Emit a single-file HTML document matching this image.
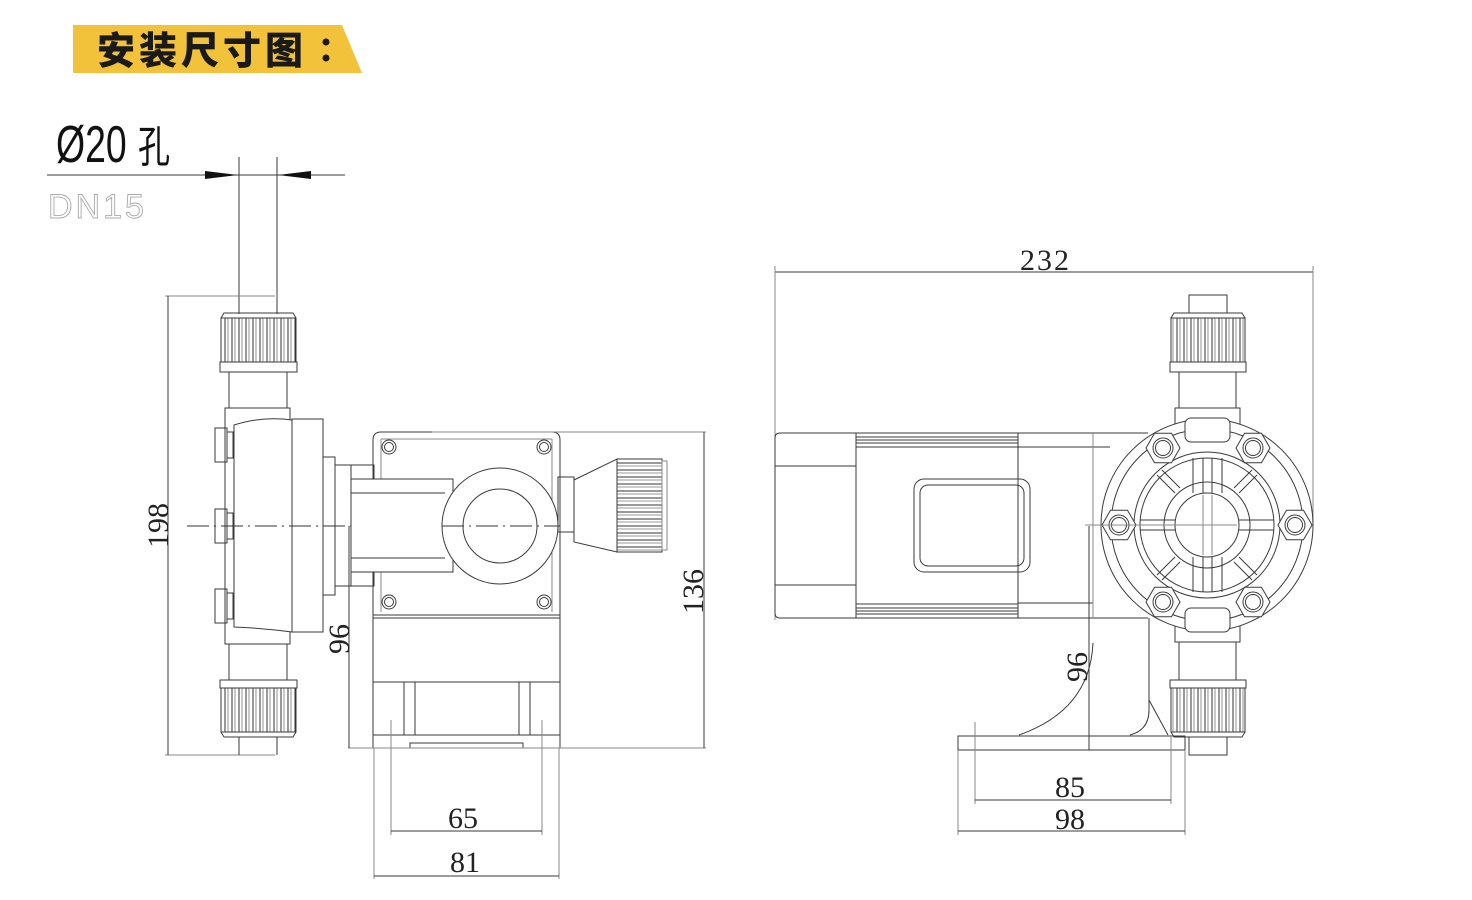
<!DOCTYPE html>
<html><head><meta charset="utf-8"><style>
html,body{margin:0;padding:0;background:#fff;}
svg{display:block;}
.s{fill:none;stroke:#3a3a3a;stroke-width:1;}
.g{fill:none;stroke:#888;stroke-width:1;}
.w{fill:#fff;stroke:#3a3a3a;stroke-width:1;}
.kv{fill:url(#kv);stroke:#3a3a3a;stroke-width:1;}
.kh{fill:url(#kh);stroke:#3a3a3a;stroke-width:1;}
.d{font-family:"Liberation Serif",serif;font-size:30px;fill:#222;}
</style></head><body>
<svg width="1472" height="900" viewBox="0 0 1472 900" xmlns="http://www.w3.org/2000/svg">
<defs>
<pattern id="kv" x="0" y="0" width="7" height="60" patternUnits="userSpaceOnUse"><rect width="7" height="60" fill="#fff"/><line x1="1" y1="0" x2="1" y2="60" stroke="#333" stroke-width="1"/><line x1="4" y1="0" x2="4" y2="60" stroke="#777" stroke-width="0.8"/></pattern>
<pattern id="kh" x="0" y="0" width="60" height="7" patternUnits="userSpaceOnUse"><rect width="60" height="7" fill="#fff"/><line x1="0" y1="1" x2="60" y2="1" stroke="#333" stroke-width="1"/><line x1="0" y1="4" x2="60" y2="4" stroke="#777" stroke-width="0.8"/></pattern>
</defs>

<!-- Title -->
<polygon points="73,25 342,25 362,73 73,73" fill="#f2c23a"/>
<text x="97" y="64" font-family="'Noto Sans CJK SC',sans-serif" font-weight="900" font-size="38" fill="#1a1a1a" letter-spacing="4">安装尺寸图</text>
<circle cx="326" cy="42" r="3.5" fill="#1a1a1a"/>
<circle cx="326" cy="58" r="3.5" fill="#1a1a1a"/>

<!-- Ø20 孔 -->
<text x="56" y="162" font-family="'Liberation Sans','Noto Sans CJK SC',sans-serif" font-size="52" fill="#111" transform="translate(56,162) scale(0.72,1) translate(-56,-162)">Ø20</text>
<text x="138" y="162" font-family="'Noto Sans CJK SC',sans-serif" font-size="40" fill="#111" transform="translate(138,162) scale(0.8,1.1) translate(-138,-162)">孔</text>
<line x1="47" y1="175" x2="345" y2="175" class="s"/>
<polygon points="205,171 238,175 205,179" fill="#111"/>
<polygon points="311,171 278,175 311,179" fill="#111"/>
<text x="48" y="218" font-family="'Liberation Sans',sans-serif" font-size="34" fill="#fff" stroke="#aaa" stroke-width="0.9" letter-spacing="3">DN15</text>

<!-- ===== LEFT VIEW ===== -->
<line x1="239" y1="157" x2="239" y2="314" class="s"/>
<line x1="277" y1="157" x2="277" y2="314" class="s"/>
<line x1="165" y1="296" x2="275" y2="296" class="g"/>
<line x1="165" y1="755" x2="275" y2="755" class="g"/>
<line x1="168" y1="296" x2="168" y2="755" class="s"/>
<text class="d" transform="translate(168,548) rotate(-90)">198</text>
<rect x="221" y="318" width="75" height="44" class="kv"/>
<path d="M221,318 L224,313 L293,313 L296,318" class="s"/>
<rect x="220" y="362" width="77" height="10" class="s"/>
<rect x="229" y="372" width="58" height="36" class="s"/>
<rect x="225" y="408" width="65" height="236" class="s"/>
<path d="M234,425 Q262,416 292,420 L292,632 Q262,628 234,627 Z" class="w"/>
<rect x="292" y="419" width="31" height="213" class="s"/>
<rect x="323" y="457" width="12" height="138" class="s"/>
<rect x="335" y="465" width="16" height="121" class="s"/>
<rect x="215" y="428" width="12" height="34" class="s"/><rect x="227" y="432" width="6" height="26" class="s"/>
<rect x="215" y="509" width="12" height="34" class="s"/><rect x="227" y="513" width="6" height="26" class="s"/>
<rect x="215" y="589" width="12" height="34" class="s"/><rect x="227" y="593" width="6" height="26" class="s"/>
<rect x="229" y="644" width="58" height="36" class="s"/>
<rect x="220" y="680" width="77" height="8" class="s"/>
<rect x="221" y="688" width="75" height="44" class="kv"/>
<path d="M221,732 L224,737 L293,737 L296,732" class="s"/>
<line x1="239" y1="737" x2="239" y2="755" class="s"/>
<line x1="277" y1="737" x2="277" y2="755" class="s"/>
<line x1="187" y1="526" x2="560" y2="526" stroke="#333" stroke-width="1" stroke-dasharray="22,5,2,5"/>
<path d="M373,618 L373,440 Q373,432 381,432 L552,432 Q560,432 560,440 L560,618 Z" class="s"/>
<line x1="381" y1="439" x2="381" y2="612" class="g"/>
<line x1="552" y1="439" x2="552" y2="612" class="g"/>
<line x1="381" y1="439" x2="552" y2="439" class="g"/>
<line x1="373" y1="615" x2="560" y2="615" class="s"/>
<circle cx="389" cy="447" r="7" class="s"/><circle cx="389" cy="447" r="4.5" class="s"/>
<circle cx="544" cy="447" r="7" class="s"/><circle cx="544" cy="447" r="4.5" class="s"/>
<circle cx="389" cy="602" r="7" class="s"/><circle cx="389" cy="602" r="4.5" class="s"/>
<circle cx="544" cy="602" r="7" class="s"/><circle cx="544" cy="602" r="4.5" class="s"/>
<line x1="432" y1="432" x2="706" y2="432" class="g"/>
<rect x="351" y="479" width="102" height="93" class="w"/>
<line x1="351" y1="493" x2="445" y2="493" class="s"/>
<line x1="351" y1="558" x2="445" y2="558" class="s"/>
<rect x="351" y="465" width="23" height="14" class="s"/>
<rect x="351" y="572" width="23" height="14" class="s"/>
<circle cx="500" cy="526" r="58" class="w"/>
<circle cx="500" cy="526" r="37" class="s"/>
<line x1="442" y1="526" x2="560" y2="526" stroke="#333" stroke-width="1" stroke-dasharray="22,5,2,5"/>
<rect x="558" y="477" width="16" height="55" class="s"/>
<polygon points="574,480 617,459 617,552 574,542" class="w"/>
<rect x="617" y="459" width="45" height="93" class="kh"/>
<rect x="662" y="461" width="5" height="89" class="g"/>
<rect x="373" y="618" width="187" height="64" class="s"/>
<rect x="373" y="682" width="187" height="53" class="s"/>
<line x1="404" y1="682" x2="404" y2="735" class="s"/><line x1="415" y1="682" x2="415" y2="735" class="s"/>
<line x1="519" y1="682" x2="519" y2="735" class="s"/><line x1="530" y1="682" x2="530" y2="735" class="s"/>
<path d="M373,735 L373,748 M560,735 L560,748 M410,748 L410,743 L523,743 L523,748" class="s"/>
<line x1="348" y1="748" x2="706" y2="748" class="g"/>
<line x1="704" y1="432" x2="704" y2="748" class="s"/>
<text class="d" transform="translate(703,614) rotate(-90)">136</text>
<line x1="349" y1="526" x2="349" y2="748" class="s"/>
<text class="d" transform="translate(349,654) rotate(-90)">96</text>
<line x1="391" y1="720" x2="391" y2="835" class="g"/>
<line x1="542" y1="720" x2="542" y2="835" class="g"/>
<line x1="391" y1="831" x2="542" y2="831" class="s"/>
<text class="d" x="448" y="828">65</text>
<line x1="374" y1="748" x2="374" y2="879" class="g"/>
<line x1="559" y1="748" x2="559" y2="879" class="g"/>
<line x1="374" y1="876" x2="559" y2="876" class="s"/>
<text class="d" x="450" y="872">81</text>

<!-- ===== RIGHT VIEW ===== -->
<line x1="775" y1="272" x2="1313" y2="272" class="s"/>
<text class="d" x="1020" y="270" letter-spacing="2">232</text>
<line x1="775" y1="266" x2="775" y2="620" class="g"/>
<line x1="1313" y1="266" x2="1313" y2="522" class="g"/>
<path d="M856,433 L780,433 Q775,433 775,438 L775,613 Q775,618 780,618 L856,618 Z" class="s"/>
<line x1="775" y1="466" x2="856" y2="466" class="s"/>
<line x1="775" y1="585" x2="856" y2="585" class="s"/>
<rect x="856" y="433" width="162" height="185" class="s"/>
<path d="M856,437 H1018 M856,440 H1018 M856,443 H1018 M856,447 H1018 M856,604 H1018 M856,608 H1018 M856,611 H1018 M856,614 H1018" class="s" stroke-width="0.8"/>
<path d="M1018,433 H1148 M1018,447 H1110 M1018,603 H1093 M1018,618 H1148" class="s"/>
<line x1="1093" y1="433" x2="1093" y2="618" class="g"/>
<rect x="914" y="479" width="116" height="93" rx="10" class="s"/>
<rect x="920" y="485" width="104" height="81" rx="8" class="s"/>
<rect x="1189" y="295" width="38" height="18" class="s"/>
<rect x="1171" y="318" width="74" height="44" class="kv"/>
<path d="M1171,318 L1174,313 L1242,313 L1245,318" class="s"/>
<rect x="1170" y="362" width="76" height="10" class="s"/>
<rect x="1179" y="372" width="57" height="36" class="s"/>
<rect x="1175" y="408" width="65" height="30" class="s"/>
<rect x="1175" y="612" width="65" height="30" class="s"/>
<rect x="1179" y="642" width="57" height="38" class="s"/>
<rect x="1170" y="680" width="76" height="8" class="s"/>
<rect x="1171" y="688" width="74" height="44" class="kv"/>
<path d="M1171,732 L1174,737 L1242,737 L1245,732" class="s"/>
<rect x="1189" y="737" width="38" height="18" class="s"/>
<circle cx="1207" cy="525" r="106" class="w"/>
<circle cx="1207" cy="525" r="96" class="s"/>
<circle cx="1207" cy="525" r="73" class="s"/>
<circle cx="1207" cy="525" r="67" class="s"/>
<circle cx="1207" cy="525" r="43" class="s"/>
<circle cx="1207" cy="525" r="32" class="s"/>
<path d="M1193,458 V493 M1203,458 V493 M1212,458 V493 M1222,458 V493 M1193,557 V592 M1203,557 V592 M1212,557 V592 M1222,557 V592" class="s"/>
<path d="M1140,520 H1175 M1140,530 H1175 M1239,520 H1274 M1239,530 H1274" class="s"/>
<path d="M1203,495 V555 M1212,495 V555 M1177,525 H1237" class="g"/>
<path d="M1157,475 L1175,493 M1162,470 L1180,488 M1257,475 L1239,493 M1252,470 L1234,488 M1157,575 L1175,557 M1162,580 L1180,562 M1257,575 L1239,557 M1252,580 L1234,562" class="s"/>
<rect x="1185" y="418" width="45" height="24" rx="6" class="w"/>
<rect x="1185" y="608" width="45" height="24" rx="6" class="w"/>
<g>
<polygon class="w" points="1180,448 1171.5,462.7 1154.5,462.7 1146,448 1154.5,433.3 1171.5,433.3"/><circle class="s" cx="1163" cy="448" r="10"/><circle class="s" cx="1163" cy="448" r="7.5"/>
<polygon class="w" points="1270,448 1261.5,462.7 1244.5,462.7 1236,448 1244.5,433.3 1261.5,433.3"/><circle class="s" cx="1253" cy="448" r="10"/><circle class="s" cx="1253" cy="448" r="7.5"/>
<polygon class="w" points="1136,525 1127.5,539.7 1110.5,539.7 1102,525 1110.5,510.3 1127.5,510.3"/><circle class="s" cx="1119" cy="525" r="10"/><circle class="s" cx="1119" cy="525" r="7.5"/>
<polygon class="w" points="1312,525 1303.5,539.7 1286.5,539.7 1278,525 1286.5,510.3 1303.5,510.3"/><circle class="s" cx="1295" cy="525" r="10"/><circle class="s" cx="1295" cy="525" r="7.5"/>
<polygon class="w" points="1180,602 1171.5,616.7 1154.5,616.7 1146,602 1154.5,587.3 1171.5,587.3"/><circle class="s" cx="1163" cy="602" r="10"/><circle class="s" cx="1163" cy="602" r="7.5"/>
<polygon class="w" points="1270,602 1261.5,616.7 1244.5,616.7 1236,602 1244.5,587.3 1261.5,587.3"/><circle class="s" cx="1253" cy="602" r="10"/><circle class="s" cx="1253" cy="602" r="7.5"/>
</g>
<line x1="1085" y1="525" x2="1207" y2="525" class="g"/>
<path d="M1149,618 V710 Q1149,730 1130,735" class="s"/>
<path d="M1149,700 L1168,735" class="s"/>
<path d="M1093,643 Q1090,710 1019,735" class="s"/>
<rect x="958" y="736" width="227" height="14" class="s"/>
<line x1="1089" y1="526" x2="1089" y2="750" class="s"/>
<text class="d" transform="translate(1087,682) rotate(-90)">96</text>
<line x1="975" y1="722" x2="975" y2="804" class="g"/>
<line x1="1171" y1="736" x2="1171" y2="804" class="g"/>
<line x1="975" y1="800" x2="1171" y2="800" class="s"/>
<text class="d" x="1055" y="797">85</text>
<line x1="958" y1="750" x2="958" y2="835" class="g"/>
<line x1="1185" y1="750" x2="1185" y2="835" class="g"/>
<line x1="958" y1="831" x2="1185" y2="831" class="s"/>
<text class="d" x="1055" y="829">98</text>
</svg>
</body></html>
